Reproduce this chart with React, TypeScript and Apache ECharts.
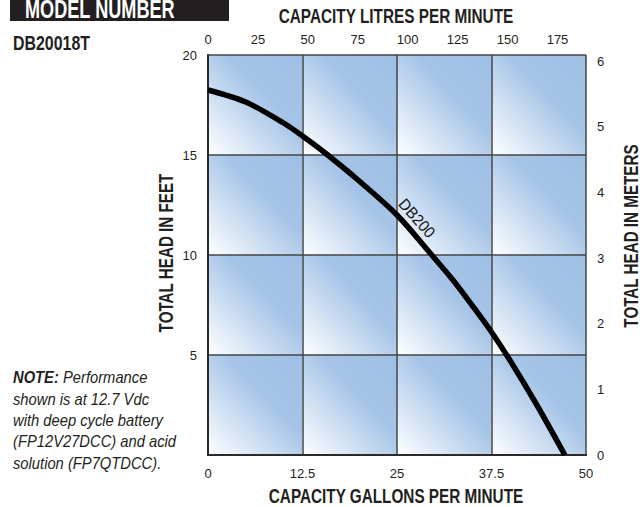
import React, { useEffect, useRef } from "react";
import * as echarts from "echarts";

const FONT = "'Liberation Sans', Arial, sans-serif";

const gpmTicks = [0, 12.5, 25, 37.5, 50];
const feetTicks = [0, 5, 10, 15, 20];
const curveGpm = [0, 5, 10, 12.5, 15.5, 20, 25, 29.6, 32.5, 35, 37.5, 40, 43.5, 47.2];
const curveFeet = [18.25, 17.65, 16.6, 15.95, 15.1, 13.7, 12.0, 10.0, 8.7, 7.45, 6.15, 4.7, 2.5, 0];
const noteLines = [
  "{b|NOTE:} Performance",
  "shown is at 12.7 Vdc",
  "with deep cycle battery",
  "(FP12V27DCC) and acid",
  "solution (FP7QTDCC).",
];

const LITRES_PER_GALLON = 3.78541;
const METERS_PER_FOOT = 0.3048;

function measure(text: string, font: string): number {
  const c = document.createElement("canvas").getContext("2d");
  if (!c) return text.length * 10;
  c.font = font;
  return c.measureText(text).width || text.length * 10;
}

export default function App() {
  const ref = useRef<HTMLDivElement>(null);
  useEffect(() => {
    document.body.style.margin = "0";
    const chart = echarts.init(ref.current!, null, { renderer: "svg" });
    const cells: number[][] = [];
    for (let i = 0; i < gpmTicks.length - 1; i++) {
      for (let j = 0; j < feetTicks.length - 1; j++) {
        cells.push([gpmTicks[i], feetTicks[j], gpmTicks[i + 1], feetTicks[j + 1]]);
      }
    }
    const gpmMax = gpmTicks[gpmTicks.length - 1];
    const ftMax = feetTicks[feetTicks.length - 1];
    const labelStyle = { color: "#231f20", fontSize: 13, fontFamily: FONT };
    const axisLine = { show: true, lineStyle: { color: "#2a2a2a", width: 2 } };

    const titleFont = `bold 21px ${FONT}`;
    const topTitle = "CAPACITY LITRES PER MINUTE";
    const bottomTitle = "CAPACITY GALLONS PER MINUTE";
    const leftTitle = "TOTAL HEAD IN FEET";
    const rightTitle = "TOTAL HEAD IN METERS";
    const sTop = 235 / measure(topTitle, titleFont);
    const sBottom = 255 / measure(bottomTitle, titleFont);
    const sLeft = 159 / measure(leftTitle, titleFont);
    const modelFont = `bold 25px ${FONT}`;
    const sModel = 150 / measure("MODEL NUMBER", modelFont);
    const dbFont = `bold 21px ${FONT}`;
    const sDb = 77 / measure("DB20018T", dbFont);
    const noteFont = `italic 16px ${FONT}`;
    const sNote = 150 / measure("with deep cycle battery", noteFont);
    const curveFont = `16px ${FONT}`;
    const sCurve = 46 / measure("DB200", curveFont);

    chart.setOption({
      animation: false,
      backgroundColor: "#ffffff",
      grid: { left: 208, right: 57, top: 55, bottom: 52, containLabel: false, outerBoundsMode: "none" },
      xAxis: [
        {
          type: "value",
          position: "bottom",
          min: 0,
          max: gpmMax,
          interval: 12.5,
          z: 2,
          axisLine,
          axisTick: { show: false },
          axisLabel: { ...labelStyle, margin: 12 },
          splitLine: { show: true, lineStyle: { color: "#454545", width: 1.5 } },
        },
        {
          type: "value",
          position: "top",
          min: 0,
          max: gpmMax * LITRES_PER_GALLON,
          interval: 25,
          z: 2,
          axisLine,
          axisTick: { show: false },
          axisLabel: { ...labelStyle, margin: 9, showMaxLabel: false },
          splitLine: { show: false },
        },
      ],
      yAxis: [
        {
          type: "value",
          position: "left",
          min: 0,
          max: ftMax,
          interval: 5,
          z: 2,
          axisLine,
          axisTick: { show: false },
          axisLabel: { ...labelStyle, margin: 11, formatter: (v: number) => (v === 0 ? "" : String(v)) },
          splitLine: { show: true, lineStyle: { color: "#454545", width: 1.5 } },
        },
        {
          type: "value",
          position: "right",
          min: 0,
          max: ftMax * METERS_PER_FOOT,
          interval: 1,
          z: 2,
          axisLine,
          axisTick: { show: false },
          axisLabel: { ...labelStyle, margin: 11, showMaxLabel: false },
          splitLine: { show: false },
        },
      ],
      series: [
        {
          type: "custom",
          z: 1,
          xAxisIndex: 0,
          yAxisIndex: 0,
          silent: true,
          data: cells,
          renderItem: (params: any, api: any) => {
            const p0 = api.coord([api.value(0), api.value(3)]);
            const p1 = api.coord([api.value(2), api.value(1)]);
            return {
              type: "rect",
              shape: { x: p0[0], y: p0[1], width: p1[0] - p0[0], height: p1[1] - p0[1] },
              style: {
                fill: new echarts.graphic.LinearGradient(0, 1, 1, 0, [
                  { offset: 0, color: "#ffffff" },
                  { offset: 0.6, color: "#a5c4e7" },
                  { offset: 1, color: "#9ebfe5" },
                ]),
              },
            };
          },
        },
        {
          type: "line",
          z: 3,
          xAxisIndex: 0,
          yAxisIndex: 0,
          smooth: 0.3,
          showSymbol: false,
          lineStyle: { color: "#000000", width: 5.5 },
          data: curveGpm.map((g, i) => [g, curveFeet[i]]),
        },
      ],
      graphic: [
        { type: "rect", left: 10, top: 0, shape: { width: 219, height: 21 }, style: { fill: "#231f20" } },
        {
          type: "text",
          x: 25,
          y: 9,
          scaleX: sModel,
          style: { text: "MODEL NUMBER", fill: "#ffffff", font: modelFont, verticalAlign: "middle" },
        },
        {
          type: "text",
          x: 13,
          y: 42.6,
          scaleX: sDb,
          style: { text: "DB20018T", fill: "#231f20", font: dbFont, verticalAlign: "middle" },
        },
        {
          type: "text",
          x: 396,
          y: 16,
          scaleX: sTop,
          style: { text: topTitle, fill: "#231f20", font: titleFont, align: "center", verticalAlign: "middle" },
        },
        {
          type: "text",
          x: 396,
          y: 495.5,
          scaleX: sBottom,
          style: { text: bottomTitle, fill: "#231f20", font: titleFont, align: "center", verticalAlign: "middle" },
        },
        {
          type: "text",
          x: 165.6,
          y: 253,
          rotation: Math.PI / 2,
          scaleX: sLeft,
          style: { text: leftTitle, fill: "#231f20", font: titleFont, align: "center", verticalAlign: "middle" },
        },
        {
          type: "text",
          x: 631,
          y: 236,
          rotation: Math.PI / 2,
          scaleX: sLeft,
          style: { text: rightTitle, fill: "#231f20", font: titleFont, align: "center", verticalAlign: "middle" },
        },
        {
          type: "text",
          x: 417,
          y: 218,
          rotation: -0.85,
          scaleX: sCurve,
          z: 10,
          style: { text: "DB200", fill: "#111111", font: curveFont, align: "center", verticalAlign: "middle" },
        },
        {
          type: "text",
          x: 13,
          y: 367,
          scaleX: sNote,
          style: {
            text: noteLines.join("\n"),
            fill: "#231f20",
            font: noteFont,
            lineHeight: 21.3,
            verticalAlign: "top",
            rich: {
              b: { fontWeight: "bold", fontStyle: "italic", fontSize: 16, fontFamily: FONT, fill: "#231f20", lineHeight: 21.3 },
            },
          },
        },
      ],
    });
    return () => chart.dispose();
  }, []);
  return <div ref={ref} style={{ width: 643, height: 507 }} />;
}
